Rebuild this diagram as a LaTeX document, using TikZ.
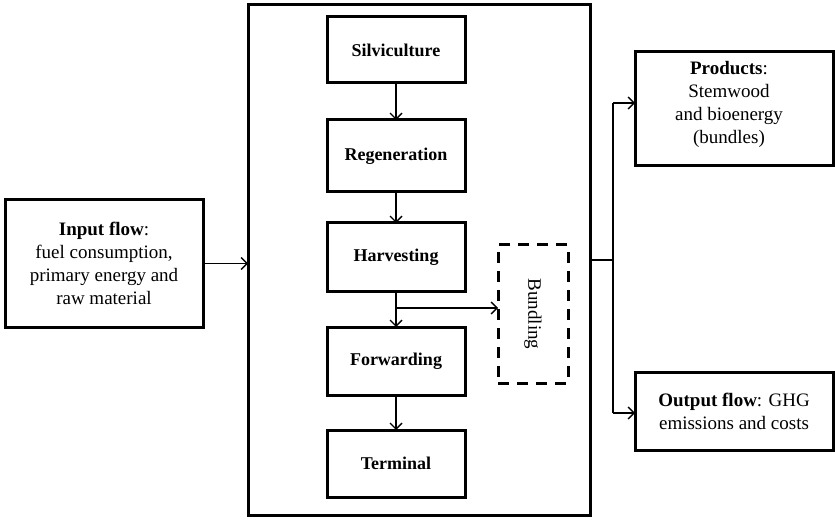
\documentclass[tikz,border=0pt]{standalone}
\usepackage{fontspec}
\setmainfont{Liberation Serif}
\usetikzlibrary{arrows.meta}
\tikzset{
  every node/.style={inner sep=0pt, outer sep=0pt},
  box/.style={draw, line width=3pt, align=center, font=\fontsize{19}{23}\selectfont},
  txt/.style={align=center, font=\fontsize{19}{23}\selectfont},
  stepbox/.style={draw, line width=3pt, minimum width=138pt, font=\fontsize{18}{22}\selectfont\bfseries},
  dbox/.style={draw, line width=3pt, dash pattern=on 11pt off 8pt, minimum width=70pt, minimum height=138pt},
  conn/.style={line width=1.4pt, -{Straight Barb[length=6pt,width=12pt,line width=1.4pt]}},
  plain/.style={line width=1.4pt}
}
\begin{document}
\begin{tikzpicture}[x=1pt,y=-1pt]
\useasboundingbox (0,0) rectangle (835,521);
% outer process box
\node[draw, line width=3pt, minimum width=342pt, minimum height=510pt] (outer) at (419,260) {};
% steps
\node[stepbox, minimum height=66pt] (silv) at (396,50) {Silviculture};
\node[stepbox, minimum height=72pt] (regen) at (396,156) {Regeneration};
\node[stepbox, minimum height=69pt] (harv) at (396,257.5) {Harvesting};
\node[stepbox, minimum height=68pt] (forw) at (396,361) {Forwarding};
\node[stepbox, minimum height=67pt] (term) at (396,463.5) {Terminal};
% bundling
\node[dbox] (bund) at (533,314) {};
\node[rotate=-90, font=\fontsize{19}{23}\selectfont] (bundt) at (bund.center) {Bundling};
% input
\node[box, minimum width=198pt, minimum height=127pt] (input) at (104,263.5)
  {\textbf{Input flow}:\\fuel consumption,\\primary energy and\\raw material};
% products
\node[draw, line width=3pt, minimum width=198pt, minimum height=114pt] (prod) at (734,109) {};
\node[txt] (prodt) at (729,104) {\textbf{Products}:\\Stemwood\\and bioenergy\\(bundles)};
% output
\node[box, minimum width=198pt, minimum height=78pt] (outp) at (734,411)
  {\textbf{Output flow}: GHG\\emissions and costs};
% connectors inside
\draw[conn] (silv) -- (regen);
\draw[conn] (regen) -- (harv);
\draw[conn] (harv) -- (forw);
\draw[conn] (forw) -- (term);
\draw[conn] (harv.south |- 0,308) -- (bund.west |- 0,308);
% input arrow
\draw[conn] (input.east) -- (outer.west |- input.east);
% output branch
\coordinate (j) at (613,260);
\coordinate (jt) at (613,103);
\coordinate (jb) at (613,413);
\draw[plain] (outer.east |- j) -- (j);
\draw[plain] (jt) -- (jb);
\draw[conn] (jt) -- (prod.west |- jt);
\draw[conn] (jb) -- (outp.west |- jb);
\end{tikzpicture}
\end{document}
